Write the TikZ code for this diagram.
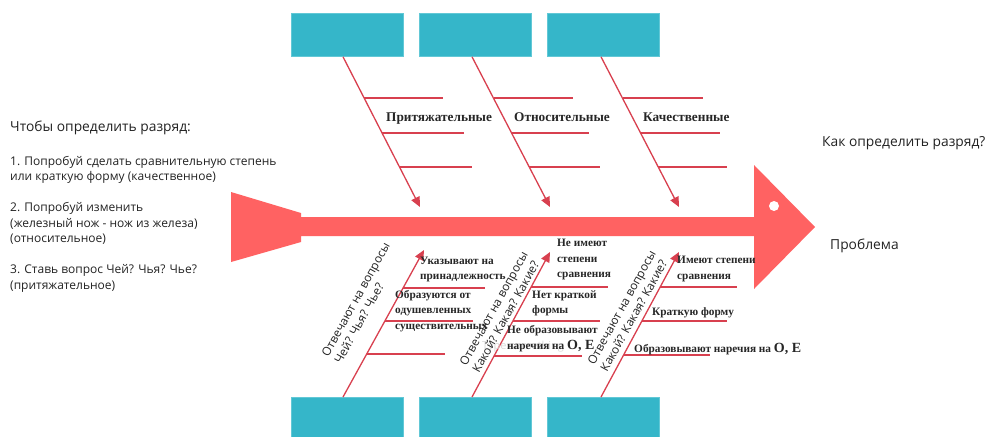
\documentclass[tikz,border=0pt]{standalone}
\usepackage{fontspec}
\setmainfont{Open Sans}
\newfontfamily\lblfont{Liberation Serif}
\usetikzlibrary{arrows.meta}
\definecolor{spinec}{HTML}{FF6262}
\definecolor{bonec}{HTML}{D8404F}
\definecolor{boxc}{HTML}{35B6C9}
\definecolor{boxb}{HTML}{62C8D6}
\definecolor{txtc}{HTML}{222222}
\newcommand{\bigOE}{{\fontsize{14}{15}\selectfont О, Е}}
\tikzset{
  tbox/.style={fill=boxc, draw=boxb, line width=0.8pt, anchor=north west, minimum width=112pt, minimum height=43pt, inner sep=0},
  bone/.style={draw=bonec, line width=1.3pt},
  bonearrow/.style={bone, -{Triangle[width=9pt,length=10pt]}},
  lbl/.style={font=\lblfont\bfseries\fontsize{11.3}{15.5}\selectfont, text=black!85, inner sep=0, align=left, anchor=west},
  toplbl/.style={font=\lblfont\bfseries\fontsize{13.3}{15}\selectfont, text=black!85, inner sep=0, anchor=base west},
  sans/.style={font=\fontsize{12}{15.5}\selectfont, text=txtc, inner sep=0, align=left, anchor=west},
  big/.style={font=\fontsize{13.8}{16}\selectfont, text=txtc, inner sep=0, anchor=west},
  rot/.style={font=\fontsize{11.8}{14.5}\selectfont, text=txtc, inner sep=0, align=left, rotate=61},
}
\begin{document}
\begin{tikzpicture}[x=1pt,y=-1pt]
\useasboundingbox (0,0) rectangle (987,436);
% boxes
\node[tbox] (t1) at (291,13) {};
\node[tbox] (t2) at (419,13) {};
\node[tbox] (t3) at (547,13) {};
\node[tbox] (b1) at (291,397) {};
\node[tbox] (b2) at (419,397) {};
\node[tbox] (b3) at (547,397) {};
% spine
\fill[spinec] (231,192) -- (301,213) -- (301,217) -- (754,217) -- (754,165) -- (815,227)
  -- (754,289) -- (754,236) -- (301,236) -- (301,242) -- (231,262) -- cycle;
\fill[white] (774,206) circle (5);
% tips
\coordinate (tt1) at (420,207);
\coordinate (tt2) at (550,207);
\coordinate (tt3) at (679,207);
\coordinate (bt1) at (424,250);
\coordinate (bt2) at (550,252);
\coordinate (bt3) at (679,252);
% top branches
\draw[bonearrow] (t1.south -| 343,0) -- (tt1);
\draw[bonearrow] (t2.south -| 472,0) -- (tt2);
\draw[bonearrow] (t3.south -| 601,0) -- (tt3);
\draw[bone] (364.4,98) -- (443,98);
\draw[bone] (382.3,133) -- (464,133);
\draw[bone] (399.6,167) -- (472,167);
\draw[bone] (493.7,98) -- (573,98);
\draw[bone] (511.8,133) -- (589,133);
\draw[bone] (529.4,167) -- (600,167);
\draw[bone] (622.7,98) -- (703,98);
\draw[bone] (640.8,133) -- (720,133);
\draw[bone] (658.4,167) -- (727,167);
% bottom branches
\draw[bonearrow] (b1.north -| 343,0) -- (bt1);
\draw[bonearrow] (b2.north -| 472,0) -- (bt2);
\draw[bonearrow] (b3.north -| 601,0) -- (bt3);
\draw[bone] (403,288) -- (485,288);
\draw[bone] (384.9,321) -- (473,321);
\draw[bone] (366.7,354) -- (445,354);
\draw[bone] (531.2,287) -- (608,287);
\draw[bone] (512.9,321) -- (600,321);
\draw[bone] (494,356) -- (582,356);
\draw[bone] (660.2,287) -- (737,287);
\draw[bone] (641.9,321) -- (727,321);
\draw[bone] (623.6,355) -- (710,355);
% top labels
\node[toplbl] (l1) at (386,121) {Притяжательные};
\node[toplbl] (l2) at (514,121) {Относительные};
\node[toplbl] (l3) at (643,121) {Качественные};
% bottom labels
\node[lbl] (p1) at (420,269.5) {Указывают на\\принадлежность};
\node[lbl] (p2) at (395,311) {Образуются от\\одушевленных\\существительных};
\node[lbl] (o1) at (557,259.5) {Не имеют\\степени\\сравнения};
\node[lbl] (o2) at (532,303.5) {Нет краткой\\формы};
\node[font=\fontsize{11}{13}\selectfont, text=gray!30, inner sep=0, anchor=west] (ghost) at (482,347) {Type something};
\node[lbl] (o3) at (507,338.5) {Не образовывают\\наречия на \bigOE};
\node[lbl] (k1) at (677,269) {Имеют степени\\сравнения};
\node[lbl] (k2) at (652,313) {Краткую форму};
\node[lbl] (k3) at (634,349) {Образовывают наречия на \bigOE};
% rotated
\node[rot] (r1) at (362,303) {Отвечают на вопросы\\Чей? Чья? Чье?};
\node[rot] (r2) at (500,312) {Отвечают на вопросы\\Какой? Какая? Какие?};
\node[rot] (r3) at (628,311) {Отвечают на вопросы\\Какой? Какая? Какие?};
% side texts
\node[big] (title) at (10,128) {Чтобы определить разряд:};
\node[sans] (steps) at (10,224) {1. Попробуй сделать сравнительную степень\\или краткую форму (качественное)\\ \mbox{}\\2. Попробуй изменить\\(железный нож - нож из железа)\\(относительное)\\ \mbox{}\\3. Ставь вопрос Чей? Чья? Чье?\\(притяжательное)};
\node[big] (q) at (822,143) {Как определить разряд?};
\node[big] (pr) at (830,246) {Проблема};
\end{tikzpicture}
\end{document}
